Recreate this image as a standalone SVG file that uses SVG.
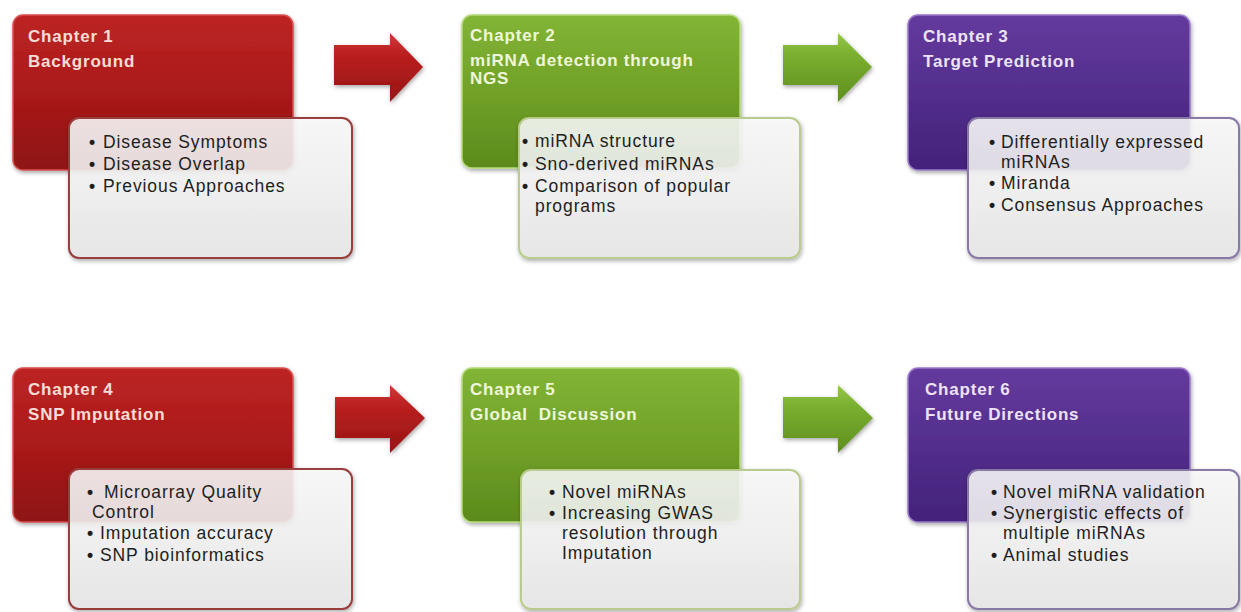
<svg xmlns="http://www.w3.org/2000/svg" width="1241" height="612" viewBox="0 0 1241 612">
<defs>
  <linearGradient id="gRed" x1="0" y1="0" x2="0" y2="1">
    <stop offset="0" stop-color="#bd2424"/>
    <stop offset="0.5" stop-color="#aa1a1a"/>
    <stop offset="1" stop-color="#8e1212"/>
  </linearGradient>
  <linearGradient id="gGreen" x1="0" y1="0" x2="0" y2="1">
    <stop offset="0" stop-color="#82b436"/>
    <stop offset="0.5" stop-color="#71a128"/>
    <stop offset="1" stop-color="#5b8a1c"/>
  </linearGradient>
  <linearGradient id="gPurple" x1="0" y1="0" x2="0" y2="1">
    <stop offset="0" stop-color="#653a9e"/>
    <stop offset="0.5" stop-color="#532e8c"/>
    <stop offset="1" stop-color="#43227a"/>
  </linearGradient>
  <linearGradient id="gWhite" x1="0" y1="0" x2="0" y2="1">
    <stop offset="0" stop-color="#fbfbfb"/>
    <stop offset="1" stop-color="#e9e9e9"/>
  </linearGradient>
  <linearGradient id="gRedArrow" x1="0" y1="0" x2="0" y2="1">
    <stop offset="0" stop-color="#d23a3a"/>
    <stop offset="0.3" stop-color="#bb2020"/>
    <stop offset="1" stop-color="#961414"/>
  </linearGradient>
  <linearGradient id="gGreenArrow" x1="0" y1="0" x2="0" y2="1">
    <stop offset="0" stop-color="#96c84a"/>
    <stop offset="0.3" stop-color="#7bb030"/>
    <stop offset="1" stop-color="#5e8e1e"/>
  </linearGradient>
  <filter id="sh" x="-10%" y="-10%" width="130%" height="130%">
    <feDropShadow dx="1" dy="2" stdDeviation="2" flood-color="#000" flood-opacity="0.35"/>
  </filter>
</defs>
<style>
  .title { font-family: "Liberation Sans", Arial, sans-serif; font-weight: bold; font-size: 17px; letter-spacing: 0.8px; }
  .tr { fill: #f6dcd6; }
  .tg { fill: #eef7da; }
  .tp { fill: #ece4f6; }
  .bul { font-family: "Liberation Sans", Arial, sans-serif; font-size: 17.5px; letter-spacing: 0.9px; fill: #1e1e1e; }
  .dot { font-weight: bold; }
  .red { fill: url(#gRed); stroke: #d85050; stroke-width: 1.5; }
  .green { fill: url(#gGreen); stroke: #b5da78; stroke-width: 1.5; }
  .purple { fill: url(#gPurple); stroke: #9878c8; stroke-width: 1.5; }
  .wbox { fill: url(#gWhite); fill-opacity: 0.86; stroke-width: 2; }
  .wr { stroke: #9a3c3c; }
  .wg { stroke: #b9cc8e; }
  .wp { stroke: #8a78a6; }
</style>

<g id="connectors">
  <path d="M334,45 H390 V33 L423,67 L390,102 V85 H334 Z" fill="url(#gRedArrow)" filter="url(#sh)"/>
  <path d="M783,45 H838 V33 L872,67 L838,102 V85 H783 Z" fill="url(#gGreenArrow)" filter="url(#sh)"/>
  <path d="M335,397 H390 V385 L425,418 L390,453 V438 H335 Z" fill="url(#gRedArrow)" filter="url(#sh)"/>
  <path d="M783,397 H838 V385 L873,418 L838,453 V438 H783 Z" fill="url(#gGreenArrow)" filter="url(#sh)"/>
</g>

<g id="chapter1">
  <rect class="red" x="13" y="15" width="280" height="155" rx="10" filter="url(#sh)"/>
  <text class="title tr" x="28" y="42">Chapter 1</text>
  <text class="title tr" x="28" y="67">Background</text>
  <rect class="wbox wr" x="69" y="118" width="283" height="140" rx="10" filter="url(#sh)"/>
  <text class="bul" x="89" y="148"><tspan class="dot">•</tspan><tspan x="103">Disease Symptoms</tspan></text>
  <text class="bul" x="89" y="170"><tspan class="dot">•</tspan><tspan x="103">Disease Overlap</tspan></text>
  <text class="bul" x="89" y="192"><tspan class="dot">•</tspan><tspan x="103">Previous Approaches</tspan></text>
</g>

<g id="chapter2">
  <rect class="green" x="462" y="15" width="278" height="153" rx="10" filter="url(#sh)"/>
  <text class="title tg" x="470" y="41">Chapter 2</text>
  <text class="title tg" x="470" y="66">miRNA detection through</text>
  <text class="title tg" x="470" y="84">NGS</text>
  <rect class="wbox wg" x="519" y="118" width="281" height="140" rx="10" filter="url(#sh)"/>
  <text class="bul" x="522" y="147"><tspan class="dot">•</tspan><tspan x="535">miRNA structure</tspan></text>
  <text class="bul" x="522" y="170"><tspan class="dot">•</tspan><tspan x="535">Sno-derived miRNAs</tspan></text>
  <text class="bul" x="522" y="192"><tspan class="dot">•</tspan><tspan x="535">Comparison of popular</tspan></text>
  <text class="bul" x="535" y="212">programs</text>
</g>

<g id="chapter3">
  <rect class="purple" x="908" y="15" width="282" height="155" rx="10" filter="url(#sh)"/>
  <text class="title tp" x="923" y="42">Chapter 3</text>
  <text class="title tp" x="923" y="67">Target Prediction</text>
  <rect class="wbox wp" x="968" y="118" width="271" height="140" rx="10" filter="url(#sh)"/>
  <text class="bul" x="989" y="148"><tspan class="dot">•</tspan><tspan x="1001">Differentially expressed</tspan></text>
  <text class="bul" x="1001" y="168">miRNAs</text>
  <text class="bul" x="989" y="189"><tspan class="dot">•</tspan><tspan x="1001">Miranda</tspan></text>
  <text class="bul" x="989" y="211"><tspan class="dot">•</tspan><tspan x="1001">Consensus Approaches</tspan></text>
</g>

<g id="chapter4">
  <rect class="red" x="13" y="368" width="280" height="154" rx="10" filter="url(#sh)"/>
  <text class="title tr" x="28" y="395">Chapter 4</text>
  <text class="title tr" x="28" y="420">SNP Imputation</text>
  <rect class="wbox wr" x="69" y="469" width="283" height="140" rx="10" filter="url(#sh)"/>
  <text class="bul" x="87" y="498"><tspan class="dot">•</tspan><tspan x="104">Microarray Quality</tspan></text>
  <text class="bul" x="92" y="518">Control</text>
  <text class="bul" x="87" y="539"><tspan class="dot">•</tspan><tspan x="100">Imputation accuracy</tspan></text>
  <text class="bul" x="87" y="561"><tspan class="dot">•</tspan><tspan x="100">SNP bioinformatics</tspan></text>
</g>

<g id="chapter5">
  <rect class="green" x="462" y="368" width="278" height="154" rx="10" filter="url(#sh)"/>
  <text class="title tg" x="470" y="395">Chapter 5</text>
  <text class="title tg" x="470" y="420" xml:space="preserve">Global  Discussion</text>
  <rect class="wbox wg" x="521" y="470" width="279" height="139" rx="10" filter="url(#sh)"/>
  <text class="bul" x="549" y="498"><tspan class="dot">•</tspan><tspan x="562">Novel miRNAs</tspan></text>
  <text class="bul" x="549" y="519"><tspan class="dot">•</tspan><tspan x="562">Increasing GWAS</tspan></text>
  <text class="bul" x="562" y="539">resolution through</text>
  <text class="bul" x="562" y="559">Imputation</text>
</g>

<g id="chapter6">
  <rect class="purple" x="908" y="368" width="282" height="154" rx="10" filter="url(#sh)"/>
  <text class="title tp" x="925" y="395">Chapter 6</text>
  <text class="title tp" x="925" y="420">Future Directions</text>
  <rect class="wbox wp" x="968" y="470" width="271" height="139" rx="10" filter="url(#sh)"/>
  <text class="bul" x="991" y="498"><tspan class="dot">•</tspan><tspan x="1003">Novel miRNA validation</tspan></text>
  <text class="bul" x="991" y="519"><tspan class="dot">•</tspan><tspan x="1003">Synergistic effects of</tspan></text>
  <text class="bul" x="1003" y="539">multiple miRNAs</text>
  <text class="bul" x="991" y="561"><tspan class="dot">•</tspan><tspan x="1003">Animal studies</tspan></text>
</g>
</svg>
